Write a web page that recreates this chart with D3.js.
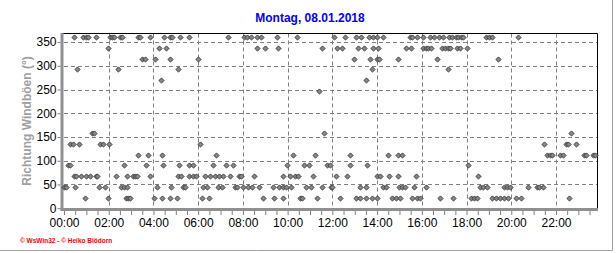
<!DOCTYPE html>
<html><head><meta charset="utf-8">
<script src="https://cdn.jsdelivr.net/npm/d3@7"></script>
<style>body{margin:0;background:#fff}svg{display:block}</style>
</head><body>
<script>
// Gust direction records (minute of day) grouped by compass direction
const dirValues = [360, 337.5, 315, 292.5, 270, 247.5, 157.5, 135, 112.5, 90, 67.5, 45, 22.5];
const t360 = [28,52,58,64,86,123,129,135,149,156,199,205,230,268,284,289,310,336,440,483,490,501,517,528,571,624,725,755,784,798,818,829,841,857,927,934,947,963,983,993,1006,1018,1033,1040,1051,1058,1065,1071,1131,1140,1149,1219];
const t337 = [117,255,273,517,540,574,691,732,746,789,805,829,843,918,931,963,970,977,984,1015,1022,1029,1035,1054,1063,1081];
const t315 = [209,216,244,284,359,778,821,839,845,895,1001,1164];
const t292 = [35,144,307,825,1029];
const t270 = [261,811];
const t247 = [685];
const t157 = [75,81,698,1359];
const t135 = [17,24,40,97,105,121,365,1289,1346,1351,1373];
const t112 = [198,226,262,407,615,674,768,870,895,907,1296,1304,1309,1332,1339,1395,1401,1420,1425];
const t90 = [10,16,160,219,266,309,336,346,401,435,454,599,644,657,705,714,768,812,1085];
const t67 = [28,31,46,59,70,86,89,140,169,185,191,196,232,305,314,336,345,354,379,393,404,415,427,445,470,476,511,588,606,620,628,669,730,760,841,848,872,897,945,1110];
const t45 = [0,6,29,94,110,153,160,169,250,288,320,325,372,383,413,424,458,465,481,494,504,524,560,578,588,596,610,649,662,692,717,719,793,809,857,864,899,906,916,940,970,1117,1124,1135,1180,1189,1196,1244,1268,1275,1284];
const t22 = [56,117,166,172,178,241,262,284,304,370,388,535,563,587,633,639,680,741,784,795,811,825,839,879,891,902,934,947,956,1010,1045,1093,1101,1108,1149,1158,1169,1180,1191,1212,1225,1354];
const timesByDir = [t360,t337,t315,t292,t270,t247,t157,t135,t112,t90,t67,t45,t22];

const yTicks = [0,50,100,150,200,250,300,350];
const xTickLabels = ["00:00","02:00","04:00","06:00","08:00","10:00","12:00","14:00","16:00","18:00","20:00","22:00"];
const title = "Montag, 08.01.2018";
const yLabel = "Richtung Windböen  (°)";
const footer = "© WsWin32 - © Heiko Blödorn";

const W = 616, H = 253;
const svg = d3.select("body").append("svg").attr("width", W).attr("height", H);
const font = "Arial, 'Liberation Sans', sans-serif";

const x = d3.scaleLinear().domain([0, 1430]).range([64, 597]);
const y = d3.scaleLinear().domain([0, 368]).range([208.2, 33.5]);

// outer panel frame
svg.append("line").attr("x1", 612.5).attr("x2", 612.5).attr("y1", 0).attr("y2", 250.5).attr("stroke", "#a0a0a0");
svg.append("line").attr("x1", 0).attr("x2", 612.5).attr("y1", 250.5).attr("y2", 250.5).attr("stroke", "#a0a0a0");

// title
svg.append("text").attr("x", 310).attr("y", 22).attr("text-anchor", "middle")
  .attr("font-family", font).attr("font-weight", "bold").attr("font-size", 12).attr("fill", "#0000ff").text(title);

// grid
const grid = svg.append("g").attr("stroke", "#808080").attr("stroke-dasharray", "4,3").attr("stroke-width", 1);
yTicks.filter(v => v > 0).forEach(v => {
  grid.append("line").attr("x1", x(0)).attr("x2", x(1430)).attr("y1", Math.round(y(v)) + 0.5).attr("y2", Math.round(y(v)) + 0.5);
});
xTickLabels.forEach((l, i) => {
  if (i === 0) return;
  const xx = Math.round(x(i * 120)) + 0.5;
  grid.append("line").attr("x1", xx).attr("x2", xx).attr("y1", 33.5).attr("y2", 208);
});

// frame top/right
svg.append("line").attr("x1", 62).attr("x2", 597.5).attr("y1", 33.5).attr("y2", 33.5).attr("stroke", "#000");
svg.append("line").attr("x1", 597.5).attr("x2", 597.5).attr("y1", 33.5).attr("y2", 210).attr("stroke", "#000");

// axes (gray thick)
svg.append("line").attr("x1", 62).attr("x2", 62).attr("y1", 33).attr("y2", 211).attr("stroke", "#909090").attr("stroke-width", 3);
svg.append("line").attr("x1", 60.5).attr("x2", 598).attr("y1", 209.5).attr("y2", 209.5).attr("stroke", "#909090").attr("stroke-width", 3);

// x axis ticks and labels
const xAxis = d3.axisBottom(x).tickValues(d3.range(0, 1431, 30)).tickSize(4)
  .tickFormat(d => d % 120 === 0 ? xTickLabels[d / 120] : "");
const gx = svg.append("g").attr("transform", "translate(0,211)").call(xAxis);
gx.select(".domain").remove();
gx.selectAll(".tick line").attr("stroke", "#808080");
gx.selectAll(".tick text").attr("font-family", font).attr("font-size", 12).attr("fill", "#000").attr("dy", "0.75em");

// y axis ticks and labels
const yAxis = d3.axisLeft(y).tickValues(yTicks).tickSize(3).tickFormat(d3.format("d"));
const gy = svg.append("g").attr("transform", "translate(60.5,0)").call(yAxis);
gy.select(".domain").remove();
gy.selectAll(".tick line").attr("stroke", "#808080");
gy.selectAll(".tick text").attr("font-family", font).attr("font-size", 12).attr("fill", "#000").attr("x", -4);

// y label
svg.append("text").attr("transform", "translate(31,121) rotate(-90)").attr("text-anchor", "middle")
  .attr("font-family", font).attr("font-weight", "bold").attr("font-size", 12).attr("fill", "#a0a0a0").text(yLabel);

// points
const points = [];
timesByDir.forEach((arr, i) => arr.forEach(t => points.push({t, v: dirValues[i]})));
svg.append("g").selectAll("path").data(points).join("path")
  .attr("transform", d => `translate(${Math.round(x(d.t)) + 0.5},${Math.round(y(d.v)) + 0.5})`)
  .attr("d", "M0,-2.6L2.6,0L0,2.6L-2.6,0Z")
  .attr("fill", "#888").attr("stroke", "#303030").attr("stroke-width", 0.9);

// footer
svg.append("text").attr("x", 20).attr("y", 243).attr("font-family", font).attr("font-weight", "bold")
  .attr("font-size", 6.5).attr("fill", "#ff0000").text(footer);
</script>
</body></html>
